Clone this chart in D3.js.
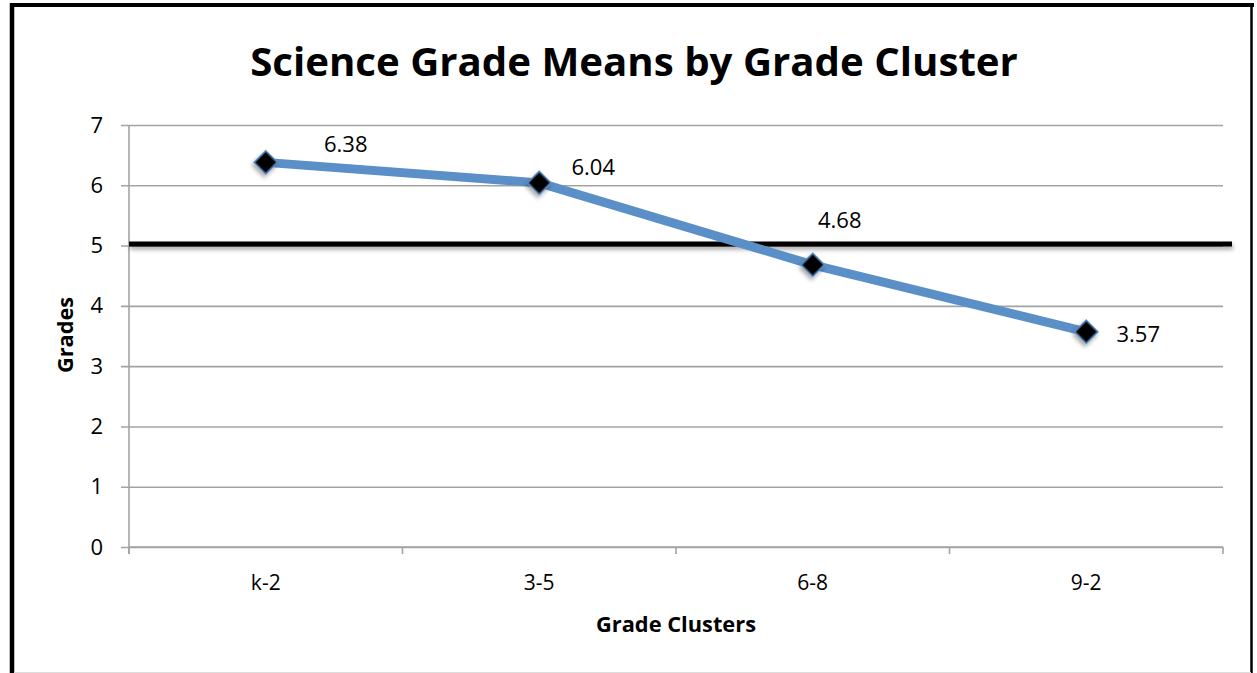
<!DOCTYPE html>
<html>
<head>
<meta charset="utf-8">
<script src="https://cdn.jsdelivr.net/npm/d3@7"></script>
<style>
  html, body { margin: 0; padding: 0; background: #fff; }
  svg { display: block; }
  text { font-family: "Open Sans", "Liberation Sans", sans-serif; fill: #000; }
</style>
</head>
<body>
<svg id="chart" width="1257" height="673"></svg>
<script>
// ---- data ----
const categories = ["k-2", "3-5", "6-8", "9-2"];
const gradeMeans = [6.38, 6.04, 4.68, 3.57];
const meanLabels = ["6.38", "6.04", "4.68", "3.57"];
const referenceValue = [5];
const yTicks = [0, 1, 2, 3, 4, 5, 6, 7];
const titleText = "Science Grade Means by Grade Cluster";
const xTitle = "Grade Clusters";
const yTitle = "Grades";

// ---- layout (not data) ----
const labelOffsets = [[80, -10], [54, -8], [27, -37], [52, 10]];
const W = 1257, H = 673;
const plot = { left: 129, right: 1223, top: 125, bottom: 547 };

const svg = d3.select("#chart");
const defs = svg.append("defs");
const f = defs.append("filter").attr("id", "shadowLine")
  .attr("filterUnits", "userSpaceOnUse")
  .attr("x", 0).attr("y", 0).attr("width", W).attr("height", H);
f.append("feDropShadow").attr("dx", 1).attr("dy", 3).attr("stdDeviation", 2)
  .attr("flood-color", "#000").attr("flood-opacity", 0.35);
const f2 = defs.append("filter").attr("id", "shadowMark")
  .attr("x", "-60%").attr("y", "-60%").attr("width", "220%").attr("height", "220%");
f2.append("feDropShadow").attr("dx", 1).attr("dy", 3).attr("stdDeviation", 2)
  .attr("flood-color", "#000").attr("flood-opacity", 0.35);

svg.append("rect").attr("width", W).attr("height", H).attr("fill", "#fff");

// border
svg.append("line").attr("x1", 12).attr("x2", 12).attr("y1", 3).attr("y2", 673)
  .attr("stroke", "#000").attr("stroke-width", 4.5);
svg.append("line").attr("x1", 10).attr("x2", 1254).attr("y1", 5).attr("y2", 5)
  .attr("stroke", "#000").attr("stroke-width", 4);
svg.append("line").attr("x1", 1251.5).attr("x2", 1251.5).attr("y1", 3).attr("y2", 673)
  .attr("stroke", "#000").attr("stroke-width", 2.5);
svg.append("line").attr("x1", 14).attr("x2", 1251).attr("y1", 672.5).attr("y2", 672.5)
  .attr("stroke", "#ddd").attr("stroke-width", 1);

const x = d3.scaleBand().domain(categories).range([plot.left, plot.right]).paddingInner(0).paddingOuter(0);
const y = d3.scaleLinear().domain([0, 7]).range([plot.bottom, plot.top]);

// gridlines + y axis ticks
const gridColor = "#a3a3a3";
const yAxis = d3.axisLeft(y).tickValues(yTicks).tickFormat(d3.format("d"))
  .tickSize(-(plot.right - plot.left)).tickPadding(26);
const gy = svg.append("g").attr("transform", `translate(${plot.left},0)`).call(yAxis);
gy.select(".domain").remove();
gy.selectAll(".tick line").attr("stroke", gridColor).attr("stroke-width", 1.6)
  .attr("x1", -8);
gy.selectAll(".tick text").attr("font-size", 22).attr("fill", "#000")
  .attr("font-family", "'Open Sans', sans-serif");

// y axis line
svg.append("line").attr("x1", plot.left).attr("x2", plot.left)
  .attr("y1", plot.top).attr("y2", plot.bottom + 7)
  .attr("stroke", gridColor).attr("stroke-width", 1.6);

// x axis
const xAxis = d3.axisBottom(x).tickSize(0).tickPadding(28);
const gx = svg.append("g").attr("transform", `translate(0,${plot.bottom})`).call(xAxis);
gx.select(".domain").attr("stroke", gridColor).attr("stroke-width", 1.6)
  .attr("d", `M${plot.left},0H${plot.right}`);
gx.selectAll(".tick text").attr("font-size", 21).attr("fill", "#000")
  .attr("font-family", "'Open Sans', sans-serif");
// band boundary ticks
const bounds = categories.map(c => x(c)).concat([x(categories[categories.length - 1]) + x.bandwidth()]);
svg.append("g").selectAll("line").data(bounds).join("line")
  .attr("x1", d => d).attr("x2", d => d)
  .attr("y1", plot.bottom).attr("y2", plot.bottom + 7)
  .attr("stroke", gridColor).attr("stroke-width", 1.6);

// reference line at 5
svg.append("g").selectAll("line").data(referenceValue).join("line")
  .attr("x1", plot.left).attr("x2", plot.right + 9)
  .attr("y1", d => y(d) - 1.5).attr("y2", d => y(d) - 1.5)
  .attr("stroke", "#000").attr("stroke-width", 5)
  .attr("filter", "url(#shadowLine)");

// series line
const pts = categories.map((c, i) => [x(c) + x.bandwidth() / 2, y(gradeMeans[i])]);
svg.append("path").datum(pts)
  .attr("d", d3.line())
  .attr("fill", "none").attr("stroke", "#5b8fc8").attr("stroke-width", 9)
  .attr("stroke-linejoin", "round");

// markers
const sym = d3.symbol().type(d3.symbolSquare).size(270);
svg.append("g").selectAll("g").data(pts).join("g")
  .attr("transform", d => `translate(${d[0]},${d[1]})`)
  .append("path")
  .attr("d", sym)
  .attr("transform", "rotate(45)")
  .attr("fill", "#000").attr("stroke", "#5b8fc8").attr("stroke-width", 1.5)
  .attr("filter", "url(#shadowMark)");

// data labels
svg.append("g").selectAll("text").data(pts).join("text")
  .attr("x", (d, i) => d[0] + labelOffsets[i][0])
  .attr("y", (d, i) => d[1] + labelOffsets[i][1])
  .attr("text-anchor", "middle").attr("font-size", 22)
  .text((d, i) => meanLabels[i]);

function fit(sel, target) {
  const w = sel.node().getComputedTextLength();
  const fs = parseFloat(sel.attr("font-size"));
  sel.attr("font-size", fs * target / w);
}

// title
const t = svg.append("text").attr("x", 634).attr("y", 76)
  .attr("text-anchor", "middle").attr("font-weight", "bold").attr("font-size", 36)
  .text(titleText);
fit(t, 768);

// x title
const xt = svg.append("text").attr("x", 676).attr("y", 632)
  .attr("text-anchor", "middle").attr("font-weight", "bold").attr("font-size", 18)
  .text(xTitle);
fit(xt, 160);

// y title
const yt = svg.append("text").attr("transform", "translate(73,335) rotate(-90)")
  .attr("text-anchor", "middle").attr("font-weight", "bold").attr("font-size", 18)
  .text(yTitle);
fit(yt, 76);
</script>
</body>
</html>
